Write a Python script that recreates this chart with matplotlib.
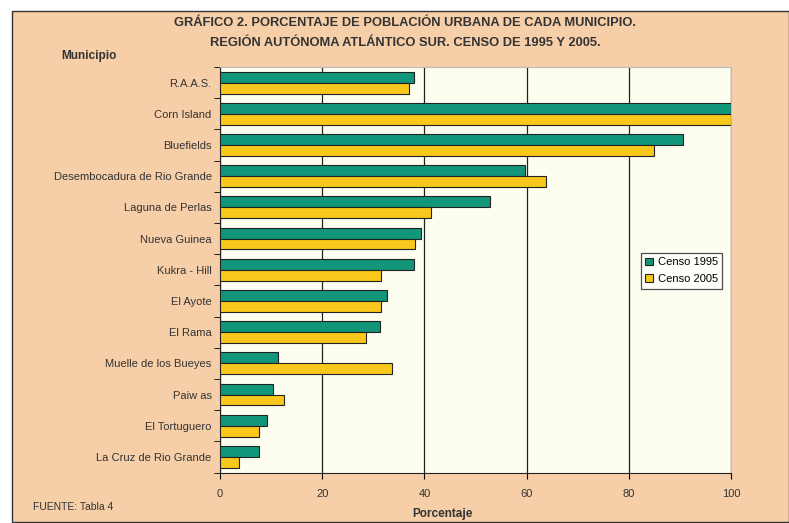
import matplotlib.pyplot as plt
import matplotlib.patches as mpatches
import numpy as np

plt.rcParams['font.family'] = ['Liberation Sans Narrow', 'Liberation Sans', 'DejaVu Sans']

# Datos
municipios = ['R.A.A.S.', 'Corn Island', 'Bluefields', 'Desembocadura de Rio Grande',
              'Laguna de Perlas', 'Nueva Guinea', 'Kukra - Hill', 'El Ayote', 'El Rama',
              'Muelle de los Bueyes', 'Paiw as', 'El Tortuguero', 'La Cruz de Rio Grande']
censo_1995 = [38.0, 100.0, 90.6, 59.7, 52.8, 39.3, 37.9, 32.6, 31.3, 11.3, 10.3, 9.1, 7.6]
censo_2005 = [37.0, 100.0, 85.0, 63.8, 41.3, 38.2, 31.6, 31.6, 28.5, 33.6, 12.5, 7.7, 3.7]
xticks = [0, 20, 40, 60, 80, 100]

VERDE = '#12967a'
AMARILLO = '#f8c81c'
FONDO = '#f6cfa8'

fig = plt.figure(figsize=(7.89, 5.23), dpi=100)
fig.patch.set_facecolor('white')

# marco del grafico (detras de los ejes)
marco = mpatches.Rectangle((12 / 789, 1 / 523), 777 / 789, 511 / 523,
                           transform=fig.transFigure, facecolor=FONDO,
                           edgecolor='#333333', linewidth=1.0, zorder=-10)
fig.add_artist(marco)

ax = fig.add_axes([220 / 789, 50.5 / 523, 511 / 789, 405.5 / 523])
ax.set_facecolor('#fdfdf0')

y = np.arange(len(municipios))
h = 0.35
ax.barh(y - h / 2, censo_1995, height=h, color=VERDE, edgecolor='#222222',
        linewidth=0.8, label='Censo 1995', zorder=3)
ax.barh(y + h / 2, censo_2005, height=h, color=AMARILLO, edgecolor='#222222',
        linewidth=0.8, label='Censo 2005', zorder=3)

ax.set_ylim(len(municipios) - 0.5, -0.5)
ax.set_xlim(0, 100)
ax.set_xticks(xticks)
ax.set_xticklabels([str(v) for v in xticks], fontsize=8, color='#333333')
ax.set_yticks(y)
ax.set_yticklabels(municipios, fontsize=8, color='#333333')
ax.tick_params(axis='y', length=0, pad=6)
ax.tick_params(axis='x', length=4, direction='out', pad=8)
ax.set_yticks(np.arange(len(municipios) + 1) - 0.5, minor=True)
ax.tick_params(axis='y', which='minor', length=4, direction='out')

ax.grid(axis='x', color='#222222', linewidth=0.9, zorder=1)
for s in ['top', 'right']:
    ax.spines[s].set_color('#bbbbbb')
for s in ['left', 'bottom']:
    ax.spines[s].set_color('#222222')

leg = ax.legend(loc='upper left', bbox_to_anchor=(0.813, 0.555), fontsize=8,
                frameon=True, fancybox=False, edgecolor='#222222',
                handlelength=0.7, handleheight=0.7, handletextpad=0.4,
                borderpad=0.4, labelspacing=0.6)
leg.get_frame().set_linewidth(0.9)
leg.get_frame().set_facecolor('white')

fig.text(405 / 789, 1 - 23 / 523, 'GRÁFICO 2. PORCENTAJE DE POBLACIÓN URBANA DE CADA MUNICIPIO.',
         ha='center', va='center', fontsize=9.3, fontweight='bold', color='#333333')
fig.text(405 / 789, 1 - 43 / 523, 'REGIÓN AUTÓNOMA ATLÁNTICO SUR. CENSO DE 1995 Y 2005.',
         ha='center', va='center', fontsize=9.3, fontweight='bold', color='#333333')
fig.text(89 / 789, 1 - 56 / 523, 'Municipio', ha='center', va='center',
         fontsize=8.5, fontweight='bold', color='#333333', family=['Liberation Sans', 'DejaVu Sans'])
fig.text(442 / 789, 1 - 514 / 523, 'Porcentaje', ha='center', va='center',
         fontsize=8.5, fontweight='bold', color='#333333', family=['Liberation Sans', 'DejaVu Sans'])
fig.text(33 / 789, 1 - 507 / 523, 'FUENTE: Tabla 4', ha='left', va='center',
         fontsize=7.5, color='#333333')

fig.savefig('out.png', dpi=100)
